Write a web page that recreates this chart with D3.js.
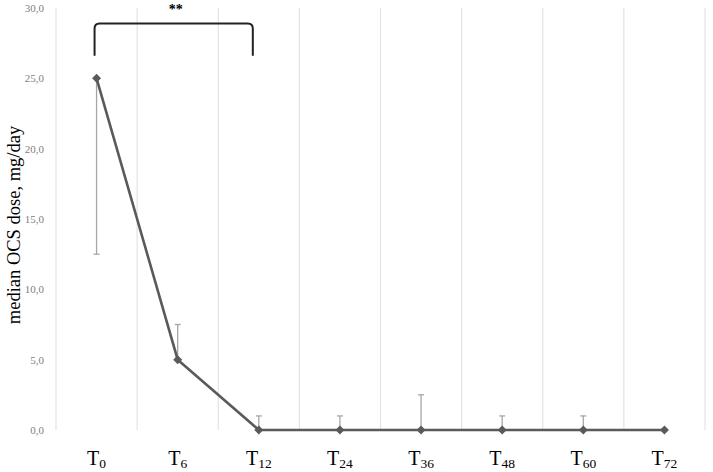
<!DOCTYPE html>
<html>
<head>
<meta charset="utf-8">
<script src="https://cdn.jsdelivr.net/npm/d3@7"></script>
<style>
  body { margin: 0; background: #fff; }
  svg { display: block; }
  .tick-y text { font-family: "Liberation Serif", serif; font-size: 11px; fill: #808080; }
  .xlab { font-family: "Liberation Serif", serif; fill: #000; }
  .ytitle { font-family: "Liberation Serif", serif; font-size: 18.5px; fill: #000; }
</style>
</head>
<body>
<div id="chart"></div>
<script>
// time points (months) and median OCS dose
const timeSubs  = ["0", "6", "12", "24", "36", "48", "60", "72"];
const medianDose = [25, 5, 0, 0, 0, 0, 0, 0];
// error bars: T0 goes down, the rest go up
const errLower = [12.5, null, null, null, null, null, null, null];
const errUpper = [null, 7.5, 1, 1, 2.5, 1, 1, null];
const yTicks = [0, 5, 10, 15, 20, 25, 30];

const W = 713, H = 472;
const M = { left: 56, right: 8, top: 8, bottom: 42 };

const svg = d3.select("#chart").append("svg").attr("width", W).attr("height", H);

const x = d3.scaleBand().domain(timeSubs).range([M.left, W - M.right]).padding(0);
const y = d3.scaleLinear().domain([0, 30]).range([H - M.bottom, M.top]);
const cx = s => x(s) + x.bandwidth() / 2;

// vertical gridlines at category boundaries
const gridX = timeSubs.map(s => x(s)).concat([x.range()[1]]);
svg.append("g").selectAll("line").data(gridX).join("line")
    .attr("x1", d => d).attr("x2", d => d)
    .attr("y1", y(30)).attr("y2", y(0))
    .attr("stroke", "#e3e3e3").attr("stroke-width", 1.2);

// y axis labels only
const yAxis = svg.append("g").attr("class", "tick-y")
    .attr("transform", `translate(${M.left - 9},0)`)
    .call(d3.axisLeft(y).tickValues(yTicks).tickSize(0)
      .tickFormat(d => d3.format(".1f")(d).replace(".", ",")));
yAxis.select(".domain").remove();

svg.append("text").attr("class", "ytitle")
    .attr("transform", `translate(20,${(y(0) + y(30)) / 2 + 6}) rotate(-90)`)
    .attr("text-anchor", "middle")
    .text("median OCS dose, mg/day");

// x labels: T with subscript
const xl = svg.append("g").selectAll("text").data(timeSubs).join("text")
    .attr("class", "xlab")
    .attr("x", d => cx(d)).attr("y", 465)
    .attr("text-anchor", "middle");
xl.append("tspan").attr("font-size", 20).text("T");
xl.append("tspan").attr("font-size", 13.5).attr("dy", 3).text(d => d);

// error bars
const errG = svg.append("g").attr("stroke", "#a6a6a6").attr("stroke-width", 1.3);
timeSubs.forEach((s, i) => {
  [errLower[i], errUpper[i]].forEach(v => {
    if (v == null) return;
    errG.append("line").attr("x1", cx(s)).attr("x2", cx(s))
        .attr("y1", y(medianDose[i])).attr("y2", y(v));
    errG.append("line").attr("x1", cx(s) - 3).attr("x2", cx(s) + 3)
        .attr("y1", y(v)).attr("y2", y(v));
  });
});

// median line
svg.append("path")
    .datum(medianDose)
    .attr("fill", "none").attr("stroke", "#5a5a5a").attr("stroke-width", 2.6)
    .attr("d", d3.line().x((d, i) => cx(timeSubs[i])).y(d => y(d)));

// diamond markers
svg.append("g").selectAll("path").data(medianDose).join("path")
    .attr("transform", (d, i) => `translate(${cx(timeSubs[i])},${y(d)})`)
    .attr("d", "M0,-4.5L4.5,0L0,4.5L-4.5,0Z")
    .attr("fill", "#5a5a5a");

// significance bracket T0 -> T12
const bx0 = cx("0") - 2, bx1 = cx("12") - 6;
const bTop = y(28.9), bBot = y(26.6);
svg.append("path")
    .attr("fill", "none").attr("stroke", "#222").attr("stroke-width", 2)
    .attr("d", `M${bx0},${bBot} L${bx0},${bTop + 5} Q${bx0},${bTop} ${bx0 + 5},${bTop}
                L${bx1 - 5},${bTop} Q${bx1},${bTop} ${bx1},${bTop + 5} L${bx1},${bBot}`);
svg.append("text")
    .attr("x", (bx0 + bx1) / 2 + 2).attr("y", bTop - 9)
    .attr("text-anchor", "middle")
    .attr("font-family", "Liberation Serif, serif").attr("font-weight", "bold")
    .attr("font-size", 14).text("**");
</script>
</body>
</html>
